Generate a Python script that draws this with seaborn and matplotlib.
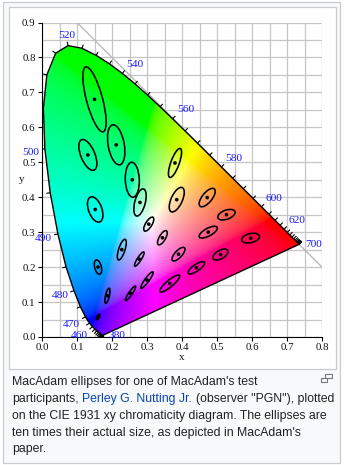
import numpy as np
import matplotlib
matplotlib.use("Agg")
import matplotlib.pyplot as plt
import seaborn as sns
from matplotlib.patches import Ellipse, Polygon, Rectangle
from matplotlib.collections import LineCollection
from matplotlib.font_manager import FontProperties

# ---------------- data ----------------
wavelengths = list(range(380, 701, 5))
locus_x = [0.1741, 0.1740, 0.1738, 0.1736, 0.1733, 0.1730, 0.1726, 0.1721, 0.1714, 0.1703,
           0.1689, 0.1669, 0.1644, 0.1611, 0.1566, 0.1510, 0.1440, 0.1355, 0.1241, 0.1096,
           0.0913, 0.0687, 0.0454, 0.0235, 0.0082, 0.0039, 0.0139, 0.0389, 0.0743, 0.1142,
           0.1547, 0.1929, 0.2296, 0.2658, 0.3016, 0.3373, 0.3731, 0.4087, 0.4441, 0.4788,
           0.5125, 0.5448, 0.5752, 0.6029, 0.6270, 0.6482, 0.6658, 0.6801, 0.6915, 0.7006,
           0.7079, 0.7140, 0.7190, 0.7230, 0.7260, 0.7283, 0.7300, 0.7311, 0.7320, 0.7327,
           0.7334, 0.7340, 0.7344, 0.7346, 0.7347]
locus_y = [0.0050, 0.0050, 0.0049, 0.0049, 0.0048, 0.0048, 0.0048, 0.0048, 0.0051, 0.0058,
           0.0069, 0.0086, 0.0109, 0.0138, 0.0177, 0.0227, 0.0297, 0.0399, 0.0578, 0.0868,
           0.1327, 0.2007, 0.2950, 0.4127, 0.5384, 0.6548, 0.7502, 0.8120, 0.8338, 0.8262,
           0.8059, 0.7816, 0.7543, 0.7243, 0.6923, 0.6589, 0.6245, 0.5896, 0.5547, 0.5202,
           0.4866, 0.4544, 0.4242, 0.3965, 0.3725, 0.3514, 0.3340, 0.3197, 0.3083, 0.2993,
           0.2920, 0.2859, 0.2809, 0.2770, 0.2740, 0.2717, 0.2700, 0.2689, 0.2680, 0.2673,
           0.2666, 0.2660, 0.2656, 0.2654, 0.2653]
label_wavelengths = [380, 460, 470, 480, 490, 500, 520, 540, 560, 580, 600, 620, 700]

# MacAdam (1942), observer PGN: centre x, y, semi-axes a, b (x 1e-3), angle (deg)
ell_x = [0.160, 0.187, 0.253, 0.150, 0.131, 0.212, 0.258, 0.152, 0.280, 0.380, 0.160, 0.228, 0.305,
         0.385, 0.472, 0.527, 0.475, 0.510, 0.596, 0.344, 0.390, 0.441, 0.278, 0.300, 0.365]
ell_y = [0.057, 0.118, 0.125, 0.680, 0.521, 0.550, 0.450, 0.365, 0.385, 0.498, 0.200, 0.250, 0.323,
         0.393, 0.399, 0.350, 0.300, 0.236, 0.283, 0.284, 0.237, 0.198, 0.223, 0.163, 0.153]
ell_a = [0.85, 2.2, 2.5, 9.6, 4.7, 5.8, 5.0, 3.8, 4.0, 4.4, 2.1, 3.1, 2.3,
         3.8, 3.2, 2.6, 2.9, 2.4, 2.6, 2.3, 2.5, 2.8, 2.4, 2.9, 3.6]
ell_b = [0.35, 0.55, 0.5, 2.3, 2.0, 2.3, 2.0, 1.9, 1.5, 1.2, 0.95, 0.9, 0.9,
         1.6, 1.4, 1.3, 1.1, 1.2, 1.3, 0.9, 1.0, 0.95, 0.55, 0.6, 0.95]
ell_theta = [62.5, 77.0, 55.5, 105.0, 112.5, 100.0, 92.0, 110.0, 75.5, 70.0, 104.0, 72.0, 58.0,
             65.5, 51.0, 20.0, 28.5, 29.5, 13.0, 60.0, 47.0, 34.5, 57.5, 54.0, 40.0]
magnification = 10

x_ticks = [0.0, 0.1, 0.2, 0.3, 0.4, 0.5, 0.6, 0.7, 0.8]
y_ticks = [0.0, 0.1, 0.2, 0.3, 0.4, 0.5, 0.6, 0.7, 0.8, 0.9]

caption_line1 = "MacAdam ellipses for one of MacAdam's test"
caption_line2 = ["participants, ", "Perley G. Nutting Jr.", " (observer \"PGN\"), plotted"]
caption_line3 = "on the CIE 1931 xy chromaticity diagram. The ellipses are"
caption_line4 = "ten times their actual size, as depicted in MacAdam's"
caption_line5 = "paper."

# ---------------- figure ----------------
W, H = 344, 465
sns.set_theme(style="white")
plt.rcParams["font.family"] = ["Liberation Serif", "DejaVu Serif"]
fig = plt.figure(figsize=(W / 100, H / 100), dpi=100)
fig.patch.set_facecolor("white")


def frame(x0, y0, x1, y1, fc, ec, z):
    r = Rectangle((x0 / W, 1 - y1 / H), (x1 - x0) / W, (y1 - y0) / H,
                  transform=fig.transFigure, facecolor=fc, edgecolor=ec, lw=0.9, zorder=z)
    fig.patches.append(r)


frame(2.5, 2.5, 339.5, 462.5, "#f8f9fa", "#c8ccd1", -3)
frame(8.5, 7.5, 335.5, 368.5, "white", "#c8ccd1", -2)

ax = fig.add_axes([42 / W, 1 - 337 / H, 280 / W, 314.5 / H])
ax.set_facecolor("none")

# chromaticity colour fill
nx, ny = 480, 540
xs = np.linspace(0, 0.8, nx)
ys = np.linspace(0.0004, 0.9, ny)
XX, YY = np.meshgrid(xs, ys)
Xc = XX / YY
Zc = (1 - XX - YY) / YY
M = np.array([[3.2406, -1.5372, -0.4986],
              [-0.9689, 1.8758, 0.0415],
              [0.0557, -0.2040, 1.0570]])
rgb = np.stack([M[i, 0] * Xc + M[i, 1] + M[i, 2] * Zc for i in range(3)], axis=-1)
rgb = np.clip(rgb, 0, None)
rgb = rgb / (rgb.max(axis=-1, keepdims=True) + 1e-12)
rgb = np.where(rgb <= 0.0031308, 12.92 * rgb, 1.055 * np.power(rgb, 1 / 2.4) - 0.055)
rgb = np.clip(rgb, 0, 1)
im = ax.imshow(rgb, extent=[0, 0.8, 0, 0.9], origin="lower", aspect="auto",
               interpolation="bilinear", zorder=1)
lx = np.array(locus_x)
ly = np.array(locus_y)
poly = Polygon(np.column_stack([lx, ly]), closed=True, facecolor="none",
               edgecolor="black", lw=1.0, zorder=3)
ax.add_patch(poly)
im.set_clip_path(poly)

# x + y = 1 line
ax.plot([0.1, 0.8], [0.9, 0.2], color="#b4b4b4", lw=0.9, zorder=0.8)

# wavelength ticks (outward normals)
n = len(lx)
normals = []
for i in range(n):
    i0, i1 = max(i - 1, 0), min(i + 1, n - 1)
    tx, ty = lx[i1] - lx[i0], ly[i1] - ly[i0]
    L = np.hypot(tx, ty) + 1e-12
    normals.append((-ty / L, tx / L))
tick_len = 0.011
segs = [[(lx[i], ly[i]), (lx[i] + normals[i][0] * tick_len, ly[i] + normals[i][1] * tick_len)]
        for i in range(n)]
ax.add_collection(LineCollection(segs, colors="black", linewidths=0.8, zorder=3))

for wl in label_wavelengths:
    i = wavelengths.index(wl)
    nxv, nyv = normals[i]
    if wl in (380, 700):
        nxv, nyv = 1.0, 0.0
    d = 6
    ha = "right" if nxv < -0.35 else ("left" if nxv > 0.35 else "center")
    va = "top" if nyv < -0.35 else ("bottom" if nyv > 0.35 else "center")
    dy = nyv * d
    if ha == "right" and va == "center":
        dy -= 3
    ax.annotate(str(wl), (lx[i], ly[i]), xytext=(nxv * d, dy), textcoords="offset pixels",
                ha=ha, va=va, color="#1a1aff", fontsize=8.2, zorder=6)

# ellipses
for x, y, a, b, t in zip(ell_x, ell_y, ell_a, ell_b, ell_theta):
    ax.add_patch(Ellipse((x, y), 2 * a * 1e-3 * magnification, 2 * b * 1e-3 * magnification,
                         angle=t, fill=False, edgecolor="black", lw=1.15, zorder=4))
sns.scatterplot(x=ell_x, y=ell_y, color="black", s=7, edgecolor="none", ax=ax, zorder=5, legend=False)

# axes styling
ax.set_xlim(0, 0.8)
ax.set_ylim(0, 0.9)
ax.set_xticks(x_ticks)
ax.set_xticklabels([f"{v:.1f}" for v in x_ticks])
ax.set_yticks(y_ticks)
ax.set_yticklabels([f"{v:.1f}" for v in y_ticks])
ax.set_xticks(np.arange(0, 0.801, 0.05), minor=True)
ax.set_yticks(np.arange(0, 0.901, 0.05), minor=True)
ax.set_axisbelow(True)
ax.grid(True, which="both", color="#c6c6c6", lw=0.9, zorder=0.5)
ax.tick_params(which="major", direction="out", length=3, width=0.8, color="black",
               labelsize=7.8, pad=1.5, labelcolor="#111111", left=True, bottom=True)
ax.tick_params(which="minor", length=0)
for s in ("top", "right"):
    ax.spines[s].set_visible(False)
for s in ("left", "bottom"):
    ax.spines[s].set_color("black")
    ax.spines[s].set_linewidth(0.8)
    ax.spines[s].set_zorder(2)
ax.set_xlabel("x", fontsize=8.0, color="#111111")
ax.set_ylabel("y", fontsize=8.0, color="#111111", rotation=0)
ax.xaxis.set_label_coords(0.5, -21 / 314.5)
ax.yaxis.set_label_coords(-20 / 280, 0.5)
ax.yaxis.label.set_va("center")
ax.xaxis.label.set_va("center")

# caption
cap_font = FontProperties(family=["Liberation Sans", "DejaVu Sans"], size=8.8)
gray = "#202122"
link = "#0645ad"
x0 = 12.5
baselines = [385.5, 402.2, 418.9, 435.6, 452.3]


def ftxt(xp, yp, s, c):
    fig.text(xp / W, 1 - yp / H, s, fontproperties=cap_font, color=c, va="baseline", ha="left")


ftxt(x0, baselines[0], caption_line1, gray)
renderer = fig.canvas.get_renderer()


def width(s):
    w, h, d = renderer.get_text_width_height_descent(s, cap_font, ismath=False)
    return w


p1 = caption_line2[0]
p2 = caption_line2[1]
p3 = caption_line2[2]
ftxt(x0, baselines[1], p1.rstrip(), gray)
xl = x0 + width(p1 + "P") - width("P")
ftxt(xl, baselines[1], p2, link)
xa = x0 + width(p1 + p2 + " (") - width("(")
ftxt(xa, baselines[1], p3.lstrip(), gray)
ftxt(x0, baselines[2], caption_line3, gray)
ftxt(x0, baselines[3], caption_line4, gray)
ftxt(x0, baselines[4], caption_line5, gray)

# magnify icon
fig.patches.append(Rectangle((325 / W, 1 - 378 / H), 7 / W, 4.5 / H, transform=fig.transFigure,
                             facecolor="none", edgecolor="#72777d", lw=0.8, zorder=2))
fig.patches.append(Rectangle((320.5 / W, 1 - 382 / H), 6 / W, 4 / H, transform=fig.transFigure,
                             facecolor="#f8f9fa", edgecolor="#72777d", lw=0.8, zorder=3))

fig.savefig("out.png", dpi=100, facecolor=fig.get_facecolor())
